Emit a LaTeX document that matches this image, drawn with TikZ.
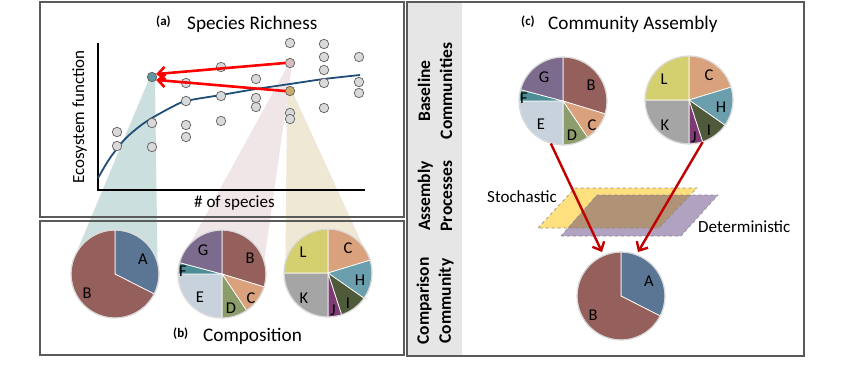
\documentclass[tikz,border=0pt]{standalone}
\usepackage{fontspec}
\setmainfont{Carlito}
\usepackage{xcolor}
\usepackage{tikz}
\usetikzlibrary{arrows.meta}

\definecolor{boxgray}{HTML}{5A5A5A}
\definecolor{stripgray}{HTML}{E6E6E6}
\definecolor{dotfill}{HTML}{D9D9D9}
\definecolor{dotedge}{HTML}{5F5F5F}
\definecolor{curveblue}{HTML}{1F4E79}
\definecolor{fanteal}{HTML}{CCDFDF}
\definecolor{fanpink}{HTML}{F1E6E7}
\definecolor{fantan}{HTML}{EFE8D4}
\definecolor{dotteal}{HTML}{5E979F}
\definecolor{dotpink}{HTML}{D9BCC0}
\definecolor{dottan}{HTML}{C9AC6E}
\definecolor{arrowred}{HTML}{FF0000}
\definecolor{darkred}{HTML}{C00000}
\definecolor{sliceA}{HTML}{5B7594}
\definecolor{sliceB}{HTML}{955F5C}
\definecolor{sliceC}{HTML}{D9A27C}
\definecolor{sliceD}{HTML}{8C9C6A}
\definecolor{sliceE}{HTML}{C7D2DD}
\definecolor{sliceF}{HTML}{4E8D95}
\definecolor{sliceG}{HTML}{7C6B8D}
\definecolor{sliceH}{HTML}{6B9FAE}
\definecolor{sliceI}{HTML}{4E5A3A}
\definecolor{sliceJ}{HTML}{7E3A72}
\definecolor{sliceK}{HTML}{A5A5A5}
\definecolor{sliceL}{HTML}{D5D06F}
\definecolor{planeyellow}{HTML}{FFE07E}
\definecolor{planepurple}{HTML}{B2A2C2}
\definecolor{planebrown}{HTML}{B09376}
\definecolor{planeedge}{HTML}{8A8A8A}

\begin{document}
\begin{tikzpicture}[x=1pt,y=-1pt,font=\fontsize{17}{20}\selectfont,
  panel/.style={draw=boxgray,line width=1.1pt},
  dot/.style={circle,draw=dotedge,fill=dotfill,line width=0.7pt,minimum size=9.5pt,inner sep=0pt},
  pie/.style={circle,minimum size=88pt,inner sep=0pt},
  slice/.style={draw=white,line width=0.7pt},
  pieedge/.style={draw=black!15,line width=1.2pt},
  pielbl/.style={inner sep=0pt,font=\fontsize{16.5}{17}\selectfont},
  sidelbl/.style={rotate=90,align=center,inner sep=0pt,font=\bfseries\fontsize{17.5}{22}\selectfont},
  ttl/.style={inner sep=0pt,font=\fontsize{19.2}{20}\selectfont,anchor=base west},
  tag/.style={inner sep=0pt,font=\bfseries\fontsize{13}{14}\selectfont,anchor=base west},
  txt/.style={inner sep=0pt,anchor=base west},
  redarrow/.style={-{Straight Barb[length=7pt,width=13pt]},line width=2.6pt},
  plane/.style={draw=planeedge,dashed,line width=0.6pt}]
\useasboundingbox (0,0) rectangle (850,372);

\fill[stripgray] (408,3) rectangle (462,355);

\fill[fanteal] (149,79) -- (72.5,262) -- (157.5,262) -- (155,79) -- cycle;
\fill[fanpink] (288,65) -- (180,262) -- (264,262) -- (292,65) -- cycle;
\fill[fantan] (287,93) -- (285.5,262) -- (370.5,262) -- (293,93) -- cycle;

\draw[panel] (40,2) rectangle (404,217);
\draw[panel] (40,221) rectangle (404,355);
\draw[panel] (407,2) rectangle (804,356);

\node[tag] (la) at (156,25) {(a)};
\node[ttl] (ta) at (187,29) {Species Richness};
\node[tag] (lb) at (173,337) {(b)};
\node[ttl] (tb) at (203,341) {Composition};
\node[tag] (lc) at (521,25) {(c)};
\node[ttl] (tc) at (548,29) {Community Assembly};

\coordinate (o) at (98,190);
\coordinate (xend) at (365,190);
\coordinate (yend) at (98,43);
\draw[line width=1.4pt] (yend) -- (o) -- (xend);
\node[rotate=90,anchor=base,inner sep=0pt] (ylab) at (84,117) {Ecosystem function};
\node[txt] (xlab) at (194,207) {\# of species};

\draw[curveblue,line width=1.8pt] plot[smooth] coordinates {
    (98,178) (110,158) (125,139) (140,126) (152,118) (170,108)
    (186,101) (221,95) (256,89) (290,84) (324,79) (360,75)
};

\foreach \x/\y [count=\i] in {117/132,117/146,152/123,152/147,186/83,186/101,
    186/125,186/137,221/67,221/96,221/121,256/79,256/98,256/107,290/43,
    290/113,290/119,324/44,324/57,324/70,324/83,324/108,359/57,359/82,359/93} {
    \node[dot] (d\i) at (\x,\y) {};
}
\node[dot,fill=dotteal] (dteal) at (152,77) {};
\node[dot,fill=dotpink] (dpink) at (290,63) {};
\node[dot,fill=dottan] (dtan) at (290,91) {};

\draw[redarrow,arrowred] (dpink.west) -- (dteal.35);
\draw[redarrow,arrowred] (dtan.west) -- (dteal.-35);

\node[pie] (pb1) at (115,274) {};
\node[pie] (pb2) at (222,274) {};
\node[pie] (pb3) at (328,273) {};
\node[pie] (pc1) at (563,101) {};
\node[pie] (pc2) at (689,100) {};
\node[pie] (pc3) at (621,296) {};

\foreach \c in {pb1,pc3} {
    \foreach \a/\b/\col in {-90/27/sliceA,27/270/sliceB}
        \filldraw[slice,fill=\col] (\c.center) -- ++(\a:44) arc[start angle=\a,end angle=\b,radius=44] -- cycle;
    \draw[pieedge] (\c.center) circle[radius=44];
    \foreach \l/\dx/\dy in {A/28/-15,B/-28/19}
        \node[pielbl] (\c-\l) at ([shift={(\dx,\dy)}]\c.center) {\l};
}
\foreach \c in {pb2,pc1} {
    \foreach \a/\b/\col in {-90/17/sliceB,17/56/sliceC,56/90/sliceD,90/180/sliceE,180/195/sliceF,195/270/sliceG}
        \filldraw[slice,fill=\col] (\c.center) -- ++(\a:44) arc[start angle=\a,end angle=\b,radius=44] -- cycle;
    \draw[pieedge] (\c.center) circle[radius=44];
    \foreach \l/\dx/\dy in {B/28/-16,C/29/24,D/9/34,E/-22/23,F/-39/-3,G/-19/-24}
        \node[pielbl] (\c-\l) at ([shift={(\dx,\dy)}]\c.center) {\l};
}
\foreach \c in {pb3,pc2} {
    \foreach \a/\b/\col in {-90/-17/sliceC,-17/35/sliceH,35/72/sliceI,72/90/sliceJ,90/180/sliceK,180/270/sliceL}
        \filldraw[slice,fill=\col] (\c.center) -- ++(\a:44) arc[start angle=\a,end angle=\b,radius=44] -- cycle;
    \draw[pieedge] (\c.center) circle[radius=44];
    \foreach \l/\dx/\dy in {C/20/-25,H/32/7,I/20/30,J/5/37,K/-24/25,L/-25/-21}
        \node[pielbl] (\c-\l) at ([shift={(\dx,\dy)}]\c.center) {\l};
}

\fill[planeyellow] (538,228) -- (575,188) -- (697,188) -- (659,228) -- cycle;
\fill[planepurple] (561,236) -- (597,195) -- (718,195) -- (681,236) -- cycle;
\fill[planebrown] (568,228) -- (597,195) -- (690.4,195) -- (659,228) -- cycle;
\draw[plane] (538,228) -- (575,188) -- (697,188) -- (659,228) -- cycle;
\draw[plane] (561,236) -- (597,195) -- (718,195) -- (681,236) -- cycle;
\node[txt] (stoch) at (487,202) {Stochastic};
\node[txt] (determ) at (698,232) {Deterministic};

\draw[redarrow,darkred,line width=2.4pt] (pc1.254) -- ([shift={(-19,-44)}]pc3.center);
\draw[redarrow,darkred,line width=2.4pt] (pc2.288) -- ([shift={(17,-44)}]pc3.center);

\node[sidelbl] (base) at (435,91) {Baseline\\Communities};
\node[sidelbl] (proc) at (435,196) {Assembly\\Processes};
\node[sidelbl] (comp) at (435,301) {Comparison\\Community};
\end{tikzpicture}
\end{document}
